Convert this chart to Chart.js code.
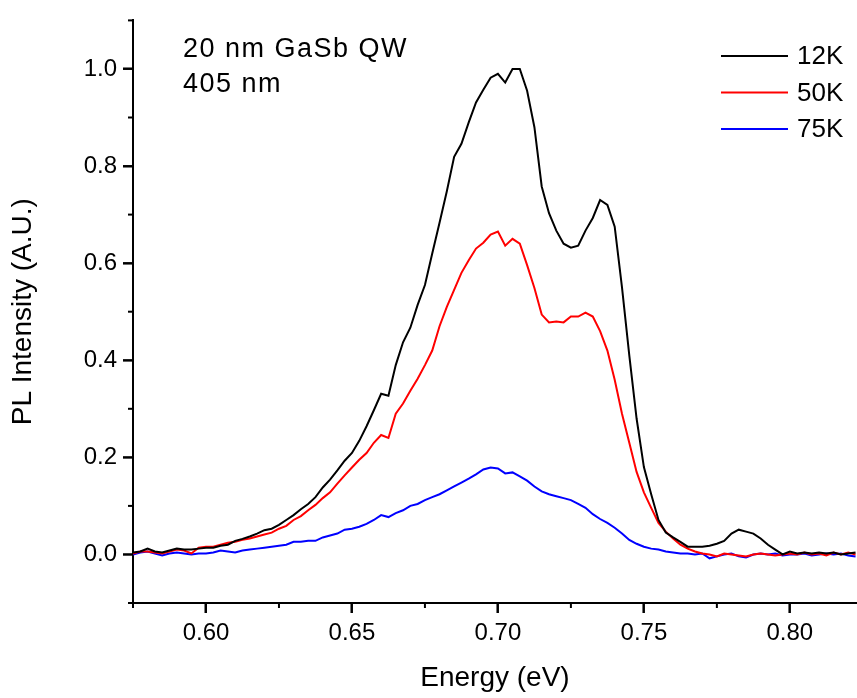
<!DOCTYPE html>
<html>
<head>
<meta charset="utf-8">
<script src="https://cdn.jsdelivr.net/npm/chart.js@4.4.0/dist/chart.umd.min.js"></script>
<style>
  body { margin: 0; background: #fff; }
</style>
</head>
<body>
<canvas id="grafico" width="857" height="698"></canvas>
<script>
// Energia (eV) de cada punto
const energy = [
  0.575, 0.5775, 0.58, 0.5825, 0.585, 0.5875, 0.59, 0.5925, 0.595, 0.5975,
  0.6, 0.6025, 0.605, 0.6075, 0.61, 0.6125, 0.615, 0.6175, 0.62, 0.6225,
  0.625, 0.6275, 0.63, 0.6325, 0.635, 0.6375, 0.64, 0.6425, 0.645, 0.6475,
  0.65, 0.6525, 0.655, 0.6575, 0.66, 0.6625, 0.665, 0.6675, 0.67, 0.6725,
  0.675, 0.6775, 0.68, 0.6825, 0.685, 0.6875, 0.69, 0.6925, 0.695, 0.6975,
  0.7, 0.7025, 0.705, 0.7075, 0.71, 0.7125, 0.715, 0.7175, 0.72, 0.7225,
  0.725, 0.7275, 0.73, 0.7325, 0.735, 0.7375, 0.74, 0.7425, 0.745, 0.7475,
  0.75, 0.7525, 0.755, 0.7575, 0.76, 0.7625, 0.765, 0.7675, 0.77, 0.7725,
  0.775, 0.7775, 0.78, 0.7825, 0.785, 0.7875, 0.79, 0.7925, 0.795, 0.7975,
  0.8, 0.8025, 0.805, 0.8075, 0.81, 0.8125, 0.815, 0.8175, 0.82, 0.8225
];

// Intensidad PL normalizada
const pl12K = [
  0.004, 0.006, 0.012, 0.006, 0.004, 0.008, 0.012, 0.010, 0.010, 0.012,
  0.014, 0.014, 0.018, 0.020, 0.028, 0.032, 0.037, 0.043, 0.050, 0.053,
  0.061, 0.071, 0.081, 0.093, 0.104, 0.118, 0.138, 0.154, 0.173, 0.193,
  0.209, 0.234, 0.264, 0.297, 0.331, 0.327, 0.390, 0.437, 0.467, 0.514,
  0.555, 0.620, 0.683, 0.748, 0.819, 0.846, 0.890, 0.931, 0.957, 0.982,
  0.990, 0.972, 1.000, 1.000, 0.955, 0.880, 0.758, 0.703, 0.667, 0.640,
  0.632, 0.636, 0.667, 0.693, 0.730, 0.720, 0.675, 0.550, 0.410, 0.280,
  0.180, 0.124, 0.071, 0.045, 0.035, 0.026, 0.016, 0.016, 0.016, 0.018,
  0.022, 0.028, 0.043, 0.051, 0.047, 0.043, 0.033, 0.020, 0.010, 0.000,
  0.006, 0.002, 0.004, 0.002, 0.004, 0.002, 0.004, 0.000, 0.002, 0.004
];
const pl50K = [
  0.002, 0.006, 0.006, 0.004, 0.002, 0.006, 0.010, 0.008, 0.002, 0.014,
  0.016, 0.016, 0.020, 0.024, 0.026, 0.030, 0.033, 0.037, 0.041, 0.045,
  0.053, 0.059, 0.071, 0.079, 0.091, 0.102, 0.116, 0.128, 0.146, 0.163,
  0.179, 0.195, 0.209, 0.230, 0.246, 0.240, 0.290, 0.311, 0.337, 0.362,
  0.390, 0.420, 0.470, 0.510, 0.545, 0.580, 0.606, 0.630, 0.642, 0.659,
  0.665, 0.636, 0.650, 0.640, 0.596, 0.549, 0.494, 0.478, 0.480, 0.478,
  0.490, 0.490, 0.498, 0.490, 0.460, 0.420, 0.360, 0.290, 0.230, 0.170,
  0.128, 0.096, 0.065, 0.047, 0.033, 0.020, 0.012, 0.006, 0.002, 0.000,
  -0.004, 0.002, 0.000, -0.002, -0.004, 0.000, 0.002, 0.000, -0.002, 0.000,
  0.002, 0.000, 0.004, 0.000, 0.002, -0.002, 0.004, 0.000, 0.004, 0.000
];
const pl75K = [
  0.000, 0.004, 0.006, 0.002, -0.002, 0.002, 0.004, 0.002, 0.000, 0.002,
  0.002, 0.004, 0.008, 0.006, 0.004, 0.008, 0.010, 0.012, 0.014, 0.016,
  0.018, 0.020, 0.026, 0.026, 0.028, 0.028, 0.035, 0.039, 0.043, 0.051,
  0.053, 0.057, 0.063, 0.071, 0.081, 0.077, 0.085, 0.091, 0.100, 0.104,
  0.112, 0.118, 0.124, 0.132, 0.140, 0.148, 0.156, 0.165, 0.175, 0.179,
  0.177, 0.167, 0.169, 0.161, 0.152, 0.140, 0.130, 0.124, 0.120, 0.116,
  0.112, 0.104, 0.096, 0.083, 0.073, 0.065, 0.055, 0.043, 0.030, 0.022,
  0.016, 0.012, 0.010, 0.006, 0.004, 0.002, 0.002, 0.000, 0.002, -0.008,
  -0.004, 0.000, 0.002, -0.004, -0.006, 0.000, 0.002, 0.000, 0.002, -0.002,
  0.000, 0.000, 0.002, -0.002, 0.000, 0.002, 0.000, 0.002, -0.002, -0.004
];

const seriesNames = ['12K', '50K', '75K'];
const seriesColors = ['#000000', '#ff0000', '#0000ff'];

// Ticks de los ejes
const xMajor = [0.60, 0.65, 0.70, 0.75, 0.80];
const xMinor = [0.575, 0.625, 0.675, 0.725, 0.775];
const yMajor = [0.0, 0.2, 0.4, 0.6, 0.8, 1.0];
const yMinor = [-0.1, 0.1, 0.3, 0.5, 0.7, 0.9, 1.1];

const notes = ['20 nm GaSb QW', '405 nm'];

Chart.defaults.font.family = "'Liberation Sans', Arial, sans-serif";
Chart.defaults.color = '#000';

const toPoints = (vals) => vals.map((v, i) => ({ x: energy[i], y: v }));

// ticks (mayores y menores), leyenda y texto
const extras = {
  id: 'extras',
  afterDraw(chart) {
    const { ctx, scales: { x, y } } = chart;
    ctx.save();
    ctx.strokeStyle = '#000';
    ctx.lineWidth = 2;
    const tick = (x1, y1, x2, y2) => { ctx.beginPath(); ctx.moveTo(x1, y1); ctx.lineTo(x2, y2); ctx.stroke(); };
    xMajor.forEach(v => { const px = x.getPixelForValue(v); tick(px, x.top, px, x.top + 10); });
    xMinor.forEach(v => { const px = x.getPixelForValue(v); tick(px, x.top, px, x.top + 5); });
    yMajor.forEach(v => { const py = y.getPixelForValue(v); tick(y.right - 10, py, y.right, py); });
    yMinor.forEach(v => { const py = y.getPixelForValue(v); tick(y.right - 5, py, y.right, py); });

    ctx.fillStyle = '#000';
    ctx.textBaseline = 'middle';
    ctx.font = "27px 'Liberation Sans', Arial, sans-serif";
    ctx.letterSpacing = '1.5px';
    notes.forEach((t, i) => ctx.fillText(t, 183, 50 + i * 35));
    ctx.letterSpacing = '0px';

    ctx.font = "26px 'Liberation Sans', Arial, sans-serif";
    seriesNames.forEach((name, i) => {
      const ly = 56 + i * 36.5;
      ctx.strokeStyle = seriesColors[i];
      tick(721, ly, 788, ly);
      ctx.fillText(name, 797, ly + 1);
    });
    ctx.restore();
  }
};

const grafico = document.getElementById('grafico');
const miGrafica = new Chart(grafico, {
  type: 'line',
  data: {
    datasets: [pl12K, pl50K, pl75K].map((vals, i) => ({
      label: seriesNames[i],
      data: toPoints(vals),
      borderColor: seriesColors[i],
      borderWidth: 2,
      pointRadius: 0,
      tension: 0
    }))
  },
  options: {
    responsive: false,
    animation: false,
    layout: { padding: { top: 10, right: 0, left: 0, bottom: 0 } },
    plugins: { legend: { display: false }, tooltip: { enabled: false } },
    scales: {
      x: {
        type: 'linear',
        min: 0.575,
        max: 0.823,
        afterBuildTicks: s => { s.ticks = xMajor.map(v => ({ value: v })); },
        afterFit: s => { s.height = 95; },
        border: { display: true, color: '#000', width: 2 },
        grid: { drawOnChartArea: false, tickLength: 10, color: '#000', tickColor: '#000', tickWidth: 2 },
        ticks: { font: { size: 24 }, padding: 6, maxRotation: 0, autoSkip: false, callback: v => Number(v).toFixed(2) },
        title: { display: true, text: 'Energy (eV)', font: { size: 28 }, padding: { top: 0, bottom: 3 } }
      },
      y: {
        min: -0.1,
        max: 1.1,
        afterBuildTicks: s => { s.ticks = yMajor.map(v => ({ value: v })); },
        afterFit: s => { s.width = 133; },
        border: { display: true, color: '#000', width: 2 },
        grid: { drawOnChartArea: false, tickLength: 10, color: '#000', tickColor: '#000', tickWidth: 2 },
        ticks: { font: { size: 24 }, padding: 6, autoSkip: false, callback: v => Number(v).toFixed(1) },
        title: { display: true, text: 'PL Intensity (A.U.)', font: { size: 28 }, padding: { top: 6, bottom: 0 } }
      }
    }
  },
  plugins: [extras]
});
</script>
</body>
</html>
